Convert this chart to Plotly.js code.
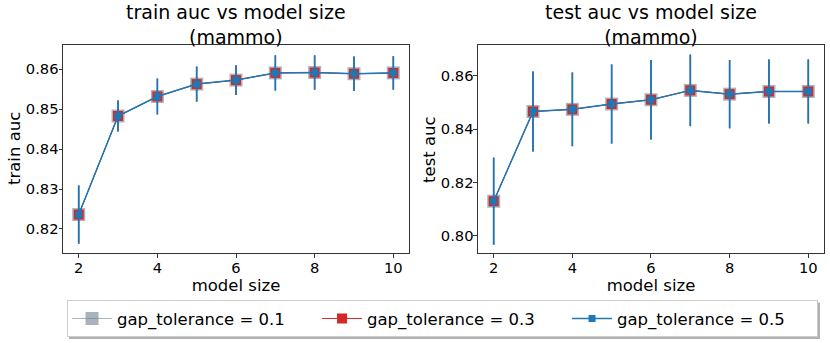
<!DOCTYPE html>
<html>
<head>
<meta charset="utf-8">
<script src="https://cdn.plot.ly/plotly-3.0.1.min.js"></script>
<style>
html, body { margin: 0; padding: 0; background: #fff; }
#chart { width: 830px; height: 343px; }
</style>
</head>
<body>
<div id="chart"></div>
<script>
// values; the three gap_tolerance curves sit on top of each other
var modelSize = [2, 3, 4, 5, 6, 7, 8, 9, 10];
var trainAuc = [0.8236, 0.8483, 0.8532, 0.8563, 0.8573, 0.8591, 0.8592, 0.8589, 0.8591];
var trainErr = [0.0073, 0.0039, 0.0045, 0.0044, 0.0037, 0.0044, 0.0043, 0.0043, 0.0042];
var testAuc = [0.8130, 0.8466, 0.8474, 0.8494, 0.8510, 0.8545, 0.8531, 0.8541, 0.8541];
var testErr = [0.0163, 0.0150, 0.0138, 0.0148, 0.0149, 0.0134, 0.0128, 0.0120, 0.0120];
var tolerances = ['0.1', '0.3', '0.5'];

var colors = ['rgba(112,128,144,0.6)', '#d62728', '#1f77b4'];
var markerSizes = [13, 10, 7];
var lineWidths = [1, 1, 1.5];
var errWidths = [1, 1, 1.8];
var font = 'DejaVu Sans, sans-serif';

var panels = [
    {xa: 'x', ya: 'y', y: trainAuc, err: trainErr},
    {xa: 'x2', ya: 'y2', y: testAuc, err: testErr}
];

var traces = [];
tolerances.forEach(function (tol, i) {
    panels.forEach(function (p, j) {
        traces.push({
            x: modelSize, y: p.y, xaxis: p.xa, yaxis: p.ya,
            type: 'scatter', mode: 'lines+markers',
            name: 'gap_tolerance = ' + tol,
            legendgroup: tol, showlegend: j === 0,
            line: {color: colors[i], width: lineWidths[i]},
            marker: {symbol: 'square', size: markerSizes[i], color: colors[i]},
            error_y: {type: 'data', array: p.err, visible: true, color: colors[i], thickness: errWidths[i], width: 0}
        });
    });
});

function xAxis(domain, anchor) {
    return {
        domain: domain, anchor: anchor, range: [1.6, 10.4],
        tickvals: [2, 4, 6, 8, 10],
        ticks: 'outside', ticklen: 3.5, tickcolor: '#333', ticklabelstandoff: -2,
        showline: true, mirror: true, linecolor: '#333', linewidth: 1,
        showgrid: false, zeroline: false,
        tickfont: {family: font, size: 14.7, color: '#000'},
        title: {text: 'model size', font: {family: font, size: 16.5, color: '#000'}, standoff: 0}
    };
}

function yAxis(range, dtick, anchor) {
    return {
        domain: [0, 1], anchor: anchor, range: range, dtick: dtick, tickformat: '.2f',
        ticks: 'outside', ticklen: 3.5, tickcolor: '#333', ticklabelstandoff: -3,
        showline: true, mirror: true, linecolor: '#333', linewidth: 1,
        showgrid: false, zeroline: false,
        tickfont: {family: font, size: 14.7, color: '#000'}
    };
}

function panelText(x0, xc, name) {
    return [
        {text: name + ' auc vs model size<br>(mammo)', xref: 'paper', yref: 'paper', x: xc, y: 1,
         xanchor: 'center', yanchor: 'middle', yshift: 21, showarrow: false,
         font: {family: font, size: 19, color: '#000'}},
        {text: name + ' auc', xref: 'paper', yref: 'paper', x: x0, y: 0.5,
         xanchor: 'center', yanchor: 'middle', xshift: -49, textangle: -90, showarrow: false,
         font: {family: font, size: 16.5, color: '#000'}}
    ];
}

var layout = {
    width: 830, height: 343,
    margin: {l: 63, r: 6, t: 45, b: 88},
    paper_bgcolor: '#fff', plot_bgcolor: '#fff',
    font: {family: font, color: '#000'},
    xaxis: xAxis([0, 0.4547], 'y'),
    yaxis: yAxis([0.81397, 0.8661], 0.01, 'x'),
    xaxis2: xAxis([0.5453, 1], 'y2'),
    yaxis2: yAxis([0.7936, 0.8715], 0.02, 'x2'),
    annotations: panelText(0, 0.22735, 'train').concat(panelText(0.5453, 0.77265, 'test')),
    showlegend: true,
    legend: {
        orientation: 'h', x: 0.0053, xanchor: 'left', y: -0.405, yanchor: 'bottom',
        bgcolor: '#fff', bordercolor: '#ccc', borderwidth: 1,
        font: {family: font, size: 16.5, color: '#000'},
        itemwidth: 40, entrywidth: 195
    },
    // legend drop shadow
    shapes: [{
        type: 'rect', xref: 'paper', yref: 'paper', layer: 'below',
        x0: 0.0079, x1: 0.9947, y0: -0.238, y1: -0.414,
        fillcolor: '#b0b0b0', line: {width: 0}
    }]
};

Plotly.newPlot('chart', traces, layout, {displayModeBar: false, staticPlot: true});
</script>
</body>
</html>
